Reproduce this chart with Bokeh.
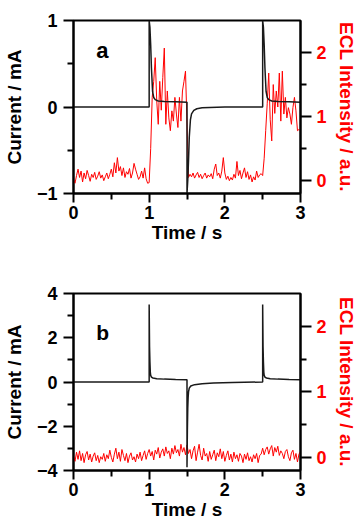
import numpy as np
from bokeh.plotting import figure
from bokeh.models import Range1d, LinearAxis, FixedTicker, Label
from bokeh.layouts import column
from bokeh.embed import file_html
from bokeh.resources import INLINE

# ---------------- data ----------------
x_ticks = [0, 1, 2, 3]
x_minor = [0.5, 1.5, 2.5]
ecl_ticks = [0, 1, 2]
ecl_minor = [0.5, 1.5]
cur_a_ticks = [-1, 0, 1]
cur_a_minor = [-0.5, 0.5]
cur_b_ticks = [-4, -2, 0, 2, 4]
cur_b_minor = [-3, -1, 1, 3]

# current, panel a (time in s, current in mA)
cur_a_t = [0.0, 1.0, 1.0, 1.01, 1.02, 1.03, 1.045, 1.06, 1.08, 1.12, 1.2, 1.35, 1.5,
           1.5, 1.51, 1.52, 1.53, 1.545, 1.56, 1.59, 1.63, 1.7, 1.8, 2.0, 2.5,
           2.5, 2.51, 2.52, 2.53, 2.545, 2.56, 2.58, 2.62, 2.7, 2.85, 3.0]
cur_a = [0.0, 0.0, 1.0, 0.92, 0.72, 0.45, 0.18, 0.11, 0.085, 0.07, 0.065, 0.06, 0.055,
         -1.0, -0.85, -0.62, -0.35, -0.15, -0.08, -0.04, -0.02, -0.01, -0.005, 0.0, 0.0,
         1.0, 0.92, 0.72, 0.45, 0.18, 0.11, 0.085, 0.07, 0.065, 0.06, 0.055]

# current, panel b
cur_b_t = [0.0, 1.0, 1.0, 1.005, 1.01, 1.015, 1.02, 1.03, 1.05, 1.1, 1.2, 1.35, 1.5,
           1.5, 1.505, 1.51, 1.515, 1.52, 1.53, 1.55, 1.6, 1.7, 1.85, 2.1, 2.5,
           2.5, 2.505, 2.51, 2.515, 2.52, 2.53, 2.55, 2.6, 2.7, 2.85, 3.0]
cur_b = [0.0, 0.0, 3.5, 1.6, 0.9, 0.45, 0.3, 0.22, 0.18, 0.15, 0.13, 0.11, 0.1,
         -3.85, -2.2, -1.2, -0.7, -0.45, -0.28, -0.18, -0.12, -0.08, -0.05, -0.02, 0.0,
         3.5, 1.6, 0.9, 0.45, 0.3, 0.22, 0.18, 0.15, 0.13, 0.11, 0.1]

# ECL intensity (a.u.), sampled every 0.02 s from 0 to 3 s
ecl_step = 0.02
ecl_a = [0.02, -0.04, 0.08, 0.18, 0.05, 0.15, -0.02, 0.12, 0.03, 0.16,
         0.08, -0.01, 0.10, 0.05, 0.13, 0.02, 0.07, 0.14, 0.04, 0.09,
         0.00, 0.06, 0.12, 0.03, 0.10, 0.18, 0.06, 0.28, 0.12, 0.36,
         0.15, 0.22, 0.08, 0.20, 0.05, 0.14, 0.10, 0.19, 0.04, 0.12,
         0.27, 0.18, 0.10, 0.02, 0.06, 0.15, 0.04, 0.20, 0.03, -0.04,
         -0.03, 0.50, 1.30, 1.55, 1.92, 1.25, 0.88, 1.55, 1.10, 1.61,
         2.07, 0.88, 1.40, 0.98, 0.78, 1.09, 0.93, 1.30, 1.04, 0.83,
         1.30, 0.93, 1.40, 1.55, 1.71, 0.90, 0.05,
         0.10, 0.06, 0.12, 0.04, 0.09, 0.13, 0.05, 0.10, 0.03, 0.08,
         0.12, 0.04, 0.09, 0.06, 0.11, 0.03, 0.18, 0.26, 0.08, 0.12,
         0.04, 0.15, 0.36, 0.12, 0.02, 0.07, 0.00, 0.05, 0.01, 0.10,
         0.04, 0.30, 0.08, 0.16, 0.03, 0.12, 0.20, 0.05, 0.14, 0.02,
         0.09, -0.02, 0.06, 0.01, 0.15, 0.05, 0.09, 0.11, 0.08,
         0.35, 0.78, 1.20, 1.68, 0.95, 0.62, 1.50, 1.05, 1.40, 1.15,
         1.68, 0.93, 1.71, 1.04, 1.30, 0.98, 1.14, 1.04, 0.88, 1.14,
         1.30, 1.09, 0.78, 0.80, 0.78]
ecl_b = [0.02, -0.06, 0.08, -0.03, 0.10, -0.05, 0.06, -0.08, 0.04, 0.09,
         -0.04, 0.05, -0.07, 0.02, 0.07, -0.05, 0.03, -0.08, 0.01, -0.03,
         0.06, -0.06, 0.04, -0.02, 0.11, 0.00, -0.07, 0.05, 0.14, -0.02,
         0.08, -0.06, 0.12, 0.03, -0.05, 0.06, -0.08, 0.02, 0.07, -0.04,
         0.01, -0.07, 0.05, -0.02, 0.08, -0.05, 0.03, 0.10, -0.03, 0.06,
         0.12, 0.02, 0.09, -0.04, 0.11, 0.05, 0.15, -0.01, 0.08, 0.13,
         0.02, 0.16, 0.06, 0.10, -0.02, 0.14, 0.05, 0.18, 0.07, 0.12,
         0.02, 0.20, 0.08, 0.15, 0.04,
         0.19, 0.06, 0.12, -0.02, 0.10, 0.17, -0.05, 0.08, 0.20, 0.03,
         -0.04, 0.14, 0.02, 0.06, -0.06, 0.09, -0.03, 0.04, 0.11, -0.05,
         0.07, 0.01, 0.13, -0.02, 0.09, -0.06, 0.03, 0.10, -0.04, 0.05,
         -0.07, 0.08, -0.02, 0.04, -0.06, 0.06, 0.02, -0.08, 0.05, -0.03,
         0.07, -0.05, 0.01, -0.07, 0.04, -0.02, 0.06, -0.08, 0.03, 0.05,
         0.14, 0.04, 0.12, 0.16, 0.05, 0.13, 0.18, 0.02, 0.15, 0.08,
         0.17, 0.03, 0.10, 0.06, -0.02, 0.09, 0.12, 0.01, -0.05, 0.07,
         0.11, -0.03, 0.06, -0.07, 0.05, 0.09]

ecl_t_a = [round(i * ecl_step, 2) for i in range(len(ecl_a))]
ecl_t_b = [round(i * ecl_step, 2) for i in range(len(ecl_b))]

FONT = "Liberation Sans"
RED = "#ff0000"


def style_axis(ax, ticks, minor, label, color="black", tick_out=10,
               label_standoff=4, axis_label_standoff=0):
    ax.ticker = FixedTicker(ticks=ticks, minor_ticks=minor)
    ax.axis_label = label
    ax.axis_line_width = 2
    ax.axis_line_color = "black"
    ax.major_tick_line_width = 2
    ax.minor_tick_line_width = 2
    ax.major_tick_line_color = "black"
    ax.minor_tick_line_color = "black"
    ax.major_tick_in = 0
    ax.major_tick_out = tick_out
    ax.minor_tick_in = 0
    ax.minor_tick_out = 6
    ax.major_label_standoff = label_standoff
    ax.axis_label_standoff = axis_label_standoff
    ax.major_label_text_font = FONT
    ax.major_label_text_font_style = "bold"
    ax.major_label_text_font_size = "18px"
    ax.major_label_text_color = color
    ax.axis_label_text_font = FONT
    ax.axis_label_text_font_style = "bold"
    ax.axis_label_text_font_size = "19px"
    ax.axis_label_text_color = color


def make_panel(height, top, bottom, cur_t, cur, cur_range, cur_ticks, cur_minor,
               ecl_t, ecl, letter, letter_xy, letter_size):
    p = figure(width=360, height=height, output_backend="svg", toolbar_location=None,
               x_range=Range1d(0, 3), y_range=Range1d(*cur_range),
               min_border_left=70, min_border_right=60,
               min_border_top=top, min_border_bottom=bottom,
               x_axis_type=None, y_axis_type=None)
    p.grid.visible = False
    p.outline_line_color = "black"
    p.outline_line_width = 2
    p.background_fill_color = "white"
    p.border_fill_color = "white"
    p.extra_y_ranges = {"ecl": Range1d(-0.2, 2.5)}

    xax = LinearAxis()
    style_axis(xax, x_ticks, x_minor, "Time / s", tick_out=9, label_standoff=3,
               axis_label_standoff=0)
    p.add_layout(xax, "below")
    yax = LinearAxis()
    style_axis(yax, cur_ticks, cur_minor, "Current / mA", tick_out=10,
               label_standoff=6, axis_label_standoff=9)
    p.add_layout(yax, "left")
    rax = LinearAxis(y_range_name="ecl")
    style_axis(rax, ecl_ticks, ecl_minor, "ECL Intensity / a.u.", color=RED,
               tick_out=11, label_standoff=5, axis_label_standoff=6)
    p.add_layout(rax, "right")

    p.line(ecl_t, ecl, y_range_name="ecl", line_color=RED, line_width=1)
    p.line(cur_t, cur, line_color="#1a1a1a", line_width=1.5)

    p.add_layout(Label(x=letter_xy[0], y=letter_xy[1], text=letter,
                       text_font=FONT, text_font_style="bold",
                       text_font_size=letter_size, text_color="black",
                       text_baseline="alphabetic"))
    return p


pa = make_panel(255, 20, 62, cur_a_t, cur_a, (-1, 1), cur_a_ticks, cur_a_minor,
                ecl_t_a, ecl_a, "a", (0.3, 0.655), "22px")
pb = make_panel(269, 38, 54, cur_b_t, cur_b, (-4, 4), cur_b_ticks, cur_b_minor,
                ecl_t_b, ecl_b, "b", (0.3, 2.25), "21px")

layout = column(pa, pb, spacing=0)
open("out.html", "w").write(file_html(layout, INLINE))
